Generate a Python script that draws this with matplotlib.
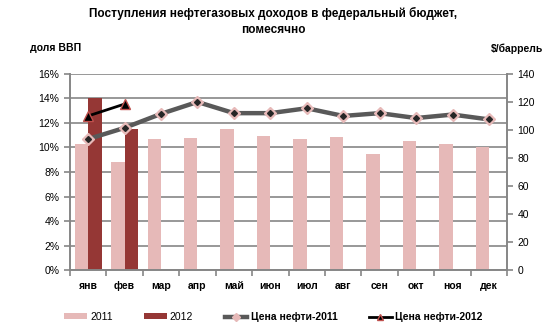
import matplotlib.pyplot as plt
import numpy as np

plt.rcParams['font.family'] = ['Liberation Sans', 'DejaVu Sans']

# Data
months = ['янв', 'фев', 'мар', 'апр', 'май', 'июн', 'июл', 'авг', 'сен', 'окт', 'ноя', 'дек']
share_2011 = [10.3, 8.8, 10.7, 10.8, 11.5, 10.9, 10.7, 10.85, 9.45, 10.5, 10.3, 10.0]
share_2012 = [14.0, 11.5]
oil_2011 = [93.5, 101.5, 111.5, 120.0, 112.0, 112.0, 115.5, 110.0, 112.0, 108.5, 111.0, 107.5]
oil_2012 = [110.0, 118.5]

c2011 = '#E6B9B8'
c2012 = '#953735'
grid_c = '#868686'

fig = plt.figure(figsize=(5.46, 3.33), dpi=100)
ax = fig.add_axes([0.128, 0.189, 0.801, 0.589])
ax2 = ax.twinx()

x = np.arange(len(months))
w = 0.37
ax.bar(x - w / 2, share_2011, width=w, color=c2011, label='2011', zorder=2)
ax.bar(x[:len(share_2012)] + w / 2, share_2012, width=w, color=c2012, label='2012', zorder=2)

ax2.plot(x, oil_2011, color='#595959', lw=3.2, marker='D', ms=6,
         mfc='#E6B9B8', mec='#E6B9B8', label='Цена нефти-2011', zorder=3)
ax2.plot(x, oil_2011, ls='none', marker='D', ms=3, color='#262626', zorder=4)
ax2.plot(x[:len(oil_2012)], oil_2012, color='black', lw=2, marker='^', ms=7,
         mfc='black', mec='#C0504D', mew=1, label='Цена нефти-2012', zorder=4)

ax.set_xlim(-0.5, 11.5)
ax.set_ylim(0, 16)
ax.set_yticks(np.arange(0, 17, 2))
ax.set_yticklabels([f'{v}%' for v in range(0, 17, 2)])
ax2.set_ylim(0, 140)
ax2.set_yticks(np.arange(0, 141, 20))

ax.set_xticks(x)
ax.set_xticklabels(months, fontweight='bold', fontsize=7.5)
ax.set_xticks(np.arange(-0.5, 12, 1), minor=True)
ax.tick_params(axis='x', which='major', length=0, pad=8)
ax.tick_params(axis='x', which='minor', length=4, color=grid_c, width=1.2)
ax.tick_params(axis='y', length=4, color=grid_c, width=1.2, labelsize=7.5)
ax2.tick_params(axis='y', length=4, color=grid_c, width=1.2, labelsize=7.5)

ax.yaxis.grid(True, color=grid_c, lw=1.2, zorder=0)
ax.set_axisbelow(True)
for a in (ax, ax2):
    a.spines['top'].set_visible(False)
    for s in ('left', 'right', 'bottom'):
        a.spines[s].set_color(grid_c)
        a.spines[s].set_linewidth(1.2)
ax.set_zorder(ax2.get_zorder() - 1)
ax2.patch.set_visible(False)

fig.text(0.5, 0.935, 'Поступления нефтегазовых доходов в федеральный бюджет,\nпомесячно',
         ha='center', va='center', fontsize=8.5, fontweight='bold', linespacing=1.5)
fig.text(0.055, 0.855, 'доля ВВП', fontsize=7.5, fontweight='bold', va='center')
fig.text(0.995, 0.855, '$/баррель', fontsize=7.5, fontweight='bold', va='center', ha='right')

h1, l1 = ax.get_legend_handles_labels()
h2, l2 = ax2.get_legend_handles_labels()
leg = fig.legend(h1 + h2, l1 + l2, loc='center', bbox_to_anchor=(0.5, 0.048), ncol=4,
                 frameon=False, fontsize=7.5, handlelength=2.2, handleheight=0.5,
                 columnspacing=3.0, handletextpad=0.3, markerscale=0.7)
for t in leg.get_texts()[2:]:
    t.set_fontweight('bold')

fig.savefig('out.png', dpi=100)
